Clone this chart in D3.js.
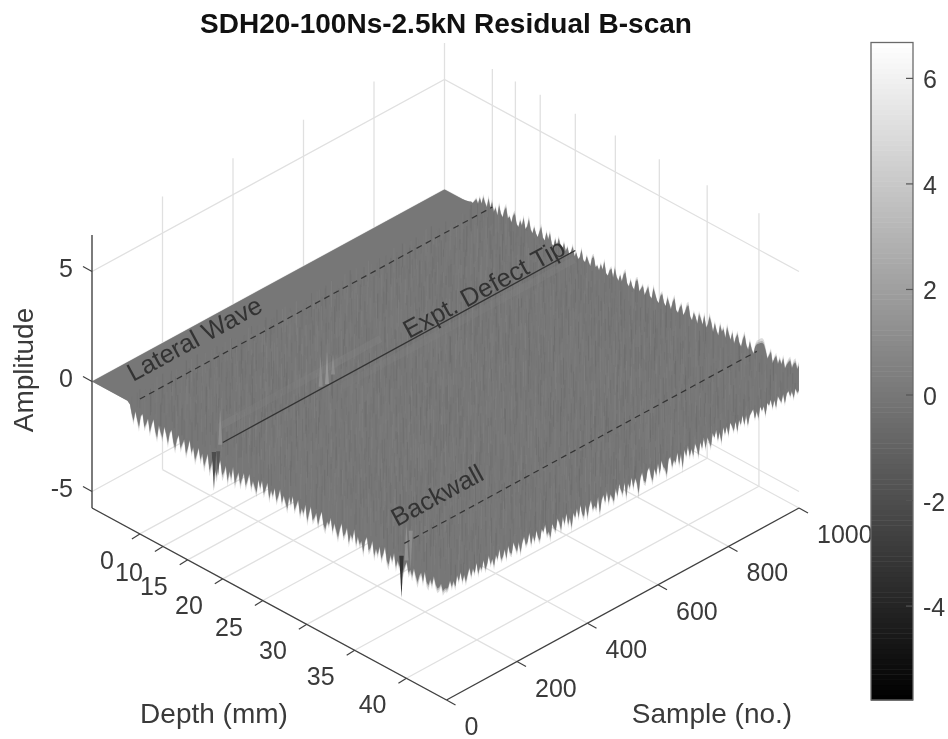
<!DOCTYPE html>
<html><head><meta charset="utf-8">
<script src="https://cdnjs.cloudflare.com/ajax/libs/d3/7.8.5/d3.min.js"></script>
<style>html,body{margin:0;padding:0;background:#fff}svg{display:block;filter:blur(0.4px)}text{font-family:"Liberation Sans",Arial,sans-serif}</style>
</head><body><div id="c"></div>
<script>
// ---- Data ----
const chartTitle = "SDH20-100Ns-2.5kN Residual B-scan";
const sampleTicks = [0,200,400,600,800,1000];
const depthTickLabels = ["0","10","15","20","25","30","35","40"];
const depthTickRows = [135,200,270,369,482,606,741,887];   // row index of each depth tick
const amplitudeTicks = [-5,0,5];
const colorbarTicks = [-4,-2,0,2,4,6];
const amplitudeRange = [-5.78,6.68];
const lateralWaveRow = 135, defectTipRow = 369, backwallRow = 881;
const annotationLift = [0.38,0.45,0.33];
// edge of the surface at sample 1000, row 60..1000 (upward excursions, 1/100 amplitude units)
const backEdge = [2,4,6,10,8,22,34,18,48,26,60,38,24,66,30,58,20,42,12,62,28,16,52,70,24,36,14,50,62,20,10,44,26,64,18,34,72,30,16,48,24,12,40,66,22,14,54,28,60,16,10,46,20,58,32,12,50,18,40,10,28,56,16,36,12,24,62,20,14,46,26,10,52,60,18,30,12,44,24,64,16,10,38,50,14,60,26,12,42,18,54,68,22,12,46,20,10,56,62,16,34,50,12,36,58,20,14,66,42,18,10,48,60,24,14,56,34,12,50,70,20,14,42,58,16,34,64,72,26,14,52,38,12,60,44,20,66,16,34,74,50,14,56,28,10,62,36,52,16,70,42,20,58,12,44,64,26,16,54,76,34,18,60,30,14,50,66,72,80,86,82,58,26,46,66,18,44,60,28,54,34,66,24,46,62,74,44,68,78,52,72];
// edge at sample 0, row 107..1000 (downward excursions, 1/100 amplitude units)
const leftEdge = [10,48,76,28,60,90,36,22,78,58,30,86,50,20,68,94,34,62,82,28,54,92,42,24,74,98,52,30,84,60,36,96,66,26,78,50,102,72,38,88,56,108,76,44,114,84,50,98,122,64,42,106,86,54,116,70,96,40,110,80,52,102,70,42,94,66,32,90,56,78,98,36,70,30,86,60,28,94,52,74,34,88,62,26,82,46,72,96,38,68,26,84,58,30,92,60,78,34,102,64,28,86,70,44,92,54,26,80,96,56,68,32,88,48,74,102,60,30,84,68,36,98,58,74,26,90,50,80,62,106,50,30,86,70,34,98,60,82,42,92,66,30,88,102,54,76,36,94,62,84,32,100,68,46,90,72,96,56,86,110,76,58,94,44,88,98,66,86,44,76,90,80,60,88,74,66];
// edge at row 1000, sample 0..1000 (downward excursions, 1/100 amplitude units)
const frontEdge = [74,66,40,72,52,80,34,64,28,74,48,84,56,30,72,42,66,24,78,50,68,30,76,58,22,66,46,82,36,60,20,72,62,34,78,26,62,70,24,50,74,36,86,46,24,66,56,18,76,40,70,26,62,80,32,50,20,72,62,92,34,58,74,24,48,84,30,66,22,76,50,98,38,62,26,72,18,64,80,32,90,46,22,70,56,76,26,102,50,30,68,22,78,46,62,86,30,70,20,52,74,26,94,38,64,22,72,32,58,110,44,24,68,76,30,18,62,88,36,70,22,74,18,52,64,96,30,22,72,46,62,20,78,34,102,26,58,16,68,38,74,22,48,86,30,62,18,70,26,50,76,20,44,14,64,32,82,20,54,24,68,16,36,62,22,72,26,50,14,60,20,70,32,22,12,58,30,64,16,40,24,68,18,34,12,54,22,60,14,32,50,18,62,24,16,44,26,60,22,46,40];
// column-to-column residuals used for the fine vertical streaks on the sheet
const streakA = [.2,-.3,.45,-.15,.1,-.5,.3,.55,-.25,.05,-.4,.25,.6,-.1,-.35,.15,.4,-.55,.08,.3,-.2,.5,-.45,.12,.35,-.05,-.6,.22,.42,-.3,.18,-.12,.52,-.38,.06,.28,-.48,.38,-.08,.15,.58,-.22,-.42,.32,.02,-.52,.48,.1,-.28,.2,-.18,.44,-.34,.26,-.06,.56,-.46,.16,-.26,.36,-.02,-.56,.4,.04,-.32,.24,.5,-.14,-.44,.34,.12,-.24,.46,-.36,.14,-.1,.54,-.5,.28,.08,-.16,.42,-.4,.22,-.04,.3,-.58,.18,.38,-.2,.1,-.3,.5,-.12,.26,-.42,.34];
const streakB = [-.12,.3,-.4,.18,.5,-.25,.06,-.5,.36,.14,-.3,.44,-.08,.22,-.46,.1,.38,-.18,-.35,.28,.02,.52,-.42,.16,-.1,.32,-.28,.46,-.02,-.52,.2,.4,-.16,.08,-.38,.26,.54,-.22,-.06,.34,-.48,.12,.42,-.14,.24,-.32,.04,.48,-.44,.3,-.2,.16,.36,-.54,.1,-.26,.5,-.04,.2,-.36,.28];
const streakShift = [0,6,3,9,1,7,4,2,8,5,10,3,7,1,9,5,2];
// light band ahead of the defect tip
const bandUpperSamples = [65,120,170,220,270,320,370,420,470,520];
const bandUpperValues = [.9,.5,.55,.5,.6,.8,1.0,.8,.85,.6];
const bandLowerSamples = [340,400,460,520,580,640,700,760,820,880,940,1000];
const bandLowerValues = [.4,.5,.55,.6,.55,.5,.45,.55,.7,.75,.65,.55];
// isolated spikes: sample, row, amplitude at the tip, at the foot, colour value
const spikeSample = [0,0,8,0,65,350,368,385,12];
const spikeRow = [344,873,348,887,297,297,297,297,887];
const spikeTip = [-1.95,-2.2,-1.3,1.3,.8,.7,.75,.5,-.95];
const spikeFoot = [-.2,-.3,-.2,-.4,-.85,-.7,-.75,-.45,.85];
const spikeValue = [-2,-3.2,-1.6,1.5,1.4,1.3,1.8,1.2,1.3];

// ---- Layout and scales ----
const W=948,H=739;
const xS=d3.scaleLinear().domain([0,1000]).range([0,352.5]);
const yS=d3.scaleLinear().domain([0,1000]).range([0,-192]);
const xR=d3.scaleLinear().domain([0,1000]).range([0,354.5]);
const yR=d3.scaleLinear().domain([0,1000]).range([0,192]);
const yZ=d3.scaleLinear().domain([-5,5]).range([491.5,271.5]);
const X0=92;
const zBottom=-5.75, zTop=6.66;
const px=(s,r)=>X0+xS(s)+xR(r);
const py=(s,r,z)=>yZ(z)+yS(s)+yR(r);
const pt=(s,r,z)=>[px(s,r),py(s,r,z)];
const gray=d3.scaleLinear().domain(amplitudeRange).range(["#000","#fff"]).clamp(true);
const svg=d3.select("#c").append("svg").attr("width",W).attr("height",H);
const lineGen=d3.line();
const seg=(g,a,b,col,w,dash)=>g.append("line").attr("x1",a[0]).attr("y1",a[1]).attr("x2",b[0]).attr("y2",b[1])
  .attr("stroke",col).attr("stroke-width",w).attr("stroke-dasharray",dash||null);

// grid
const grid=svg.append("g"); const gc="#e0e0e0", gw=1.3;
sampleTicks.forEach(s=>{
  seg(grid,pt(s,0,zBottom),pt(s,0,zTop),gc,gw);
  seg(grid,pt(s,0,zBottom),pt(s,1000,zBottom),gc,gw);
});
depthTickRows.forEach(r=>{
  seg(grid,pt(1000,r,zBottom),pt(1000,r,zTop),gc,gw);
  seg(grid,pt(0,r,zBottom),pt(1000,r,zBottom),gc,gw);
});
amplitudeTicks.forEach(z=>{
  grid.append("path").attr("fill","none").attr("stroke",gc).attr("stroke-width",gw)
   .attr("d",lineGen([pt(0,0,z),pt(1000,0,z),pt(1000,1000,z)]));
});

// surface sheet
function sheetPath(gain){
  const o=[pt(0,0,0),pt(1000,0,0),pt(1000,50,0)];
  backEdge.forEach((v,i)=>o.push(pt(1000,60+i*940/(backEdge.length-1),v/100*gain)));
  frontEdge.slice().reverse().forEach((v,i)=>o.push(pt(1000-i*1000/(frontEdge.length-1),1000,-v/100*gain)));
  leftEdge.slice().reverse().forEach((v,i)=>o.push(pt(0,1000-i*893/(leftEdge.length-1),-v/100*gain)));
  o.push(pt(0,100,0));
  return lineGen(o)+"Z";
}
const defs=svg.append("defs");
defs.append("clipPath").attr("id","sheet").append("path").attr("d",sheetPath(1));
const surf=svg.append("g");
surf.append("path").attr("d",sheetPath(1.25)).attr("fill",gray(0.05)).attr("opacity",.25);
surf.append("path").attr("d",sheetPath(1.1)).attr("fill",gray(0.05)).attr("opacity",.4);
surf.append("path").attr("d",sheetPath(1)).attr("fill",gray(0.05));
const streaks=surf.append("g").attr("clip-path","url(#sheet)");
d3.range(112,1030,24).forEach((r,ri)=>{
  d3.range(0,1001,10).forEach((s,si)=>{
    const v=(si+ri*7)%2? streakA[(si*3+ri*11)%streakA.length] : streakB[(si*5+ri*3)%streakB.length];
    const h=.22+Math.abs(v)*.7;
    const ss=Math.min(1000,s+streakShift[(ri+si)%streakShift.length]);
    seg(streaks,pt(ss,r,-h),pt(ss,r,h),gray(v*1.4),.9).attr("opacity",.5);
  });
});
const bands=surf.append("g").attr("clip-path","url(#sheet)");
bandUpperSamples.forEach((s,i)=>{ if(i<bandUpperSamples.length-1)
  seg(bands,pt(s,297,0),pt(bandUpperSamples[i+1],297,0),gray(bandUpperValues[i]),7).attr("opacity",.3);});
bandLowerSamples.forEach((s,i)=>{ if(i<bandLowerSamples.length-1)
  seg(bands,pt(s,366,0),pt(bandLowerSamples[i+1],366,0),gray(bandLowerValues[i]),7).attr("opacity",.3);});
spikeSample.forEach((s,i)=>{
  const tip=pt(s,spikeRow[i],spikeTip[i]), foot=pt(s,spikeRow[i],spikeFoot[i]);
  const hw=i<2?2.2:2;
  surf.append("path").attr("d",lineGen([[foot[0]-hw,foot[1]],tip,[foot[0]+hw,foot[1]]])+"Z")
    .attr("fill",gray(spikeValue[i])).attr("opacity",i<3?1:.85);
});

// annotation lines
const ann=svg.append("g"); const ac="#333";
seg(ann,pt(0,lateralWaveRow,annotationLift[0]),pt(1000,lateralWaveRow,annotationLift[0]),ac,1.2,"6 4.5");
seg(ann,pt(0,defectTipRow,annotationLift[1]),pt(1000,defectTipRow,annotationLift[1]),ac,1.3);
seg(ann,pt(0,backwallRow,annotationLift[2]),pt(1000,backwallRow,annotationLift[2]),ac,1.2,"6 4.5");
const lab=(t,x,y)=>svg.append("text").text(t).attr("x",x).attr("y",y).attr("font-size",25.5).attr("fill","#333")
  .attr("transform",`rotate(-28.5 ${x} ${y})`);
lab("Lateral Wave",133,382); lab("Expt. Defect Tip",409,339); lab("Backwall",397,527);

// axes
const ax=svg.append("g"); const axc="#404040", tc="#3a3a3a", fs=25;
seg(ax,pt(0,0,zBottom),pt(0,0,zTop),axc,1.3);
seg(ax,pt(0,0,zBottom),pt(0,1000,zBottom),axc,1.3);
seg(ax,pt(0,1000,zBottom),pt(1000,1000,zBottom),axc,1.3);
const t=(txt,x,y,anc,size)=>svg.append("text").text(txt).attr("x",x).attr("y",y).attr("font-size",size||fs).attr("fill",tc).attr("text-anchor",anc||"start");
amplitudeTicks.forEach(z=>{
  const p=pt(0,0,z); seg(ax,p,[p[0]-9,p[1]-5],axc,1.2);
  t(z<0?"-"+Math.abs(z):String(z),73,p[1]+5,"end");
});
depthTickRows.forEach((r,i)=>{
  const p=pt(0,r,zBottom); seg(ax,p,[p[0]-8,p[1]+5],axc,1.2);
  t(depthTickLabels[i],p[0]-(i===0?26:20),p[1]+35,"end");
});
sampleTicks.forEach(s=>{
  const p=pt(s,1000,zBottom); seg(ax,p,[p[0]+9,p[1]+5],axc,1.2);
  t(String(s),p[0]+18,p[1]+35,"start");
});
t("Depth (mm)",214,723,"middle",28);
t("Sample (no.)",712,723,"middle",28);
svg.append("text").text("Amplitude").attr("font-size",28).attr("fill",tc).attr("text-anchor","middle")
  .attr("transform","translate(33,370) rotate(-90)");
svg.append("text").text(chartTitle).attr("x",446).attr("y",33).attr("text-anchor","middle")
  .attr("font-size",28).attr("font-weight","bold").attr("fill","#111");

// colourbar
const cbY=d3.scaleLinear().domain(amplitudeRange).range([700,42.5]);
const cb=svg.append("g");
const nLevels=128, step=(amplitudeRange[1]-amplitudeRange[0])/nLevels;
d3.range(nLevels).forEach(i=>{
  const lo=amplitudeRange[0]+i*step;
  cb.append("rect").attr("x",871).attr("width",42).attr("y",cbY(lo+step)).attr("height",cbY(lo)-cbY(lo+step)+.5).attr("fill",gray(lo+step/2));
});
cb.append("rect").attr("x",871).attr("y",42.5).attr("width",42).attr("height",657.5).attr("fill","none").attr("stroke","#6a6a6a").attr("stroke-width",1.3);
colorbarTicks.forEach(v=>{
  seg(cb,[906,cbY(v)],[913,cbY(v)],"#555",1.2);
  t(v<0?"-"+Math.abs(v):String(v),923,cbY(v)+10);
});
</script></body></html>
